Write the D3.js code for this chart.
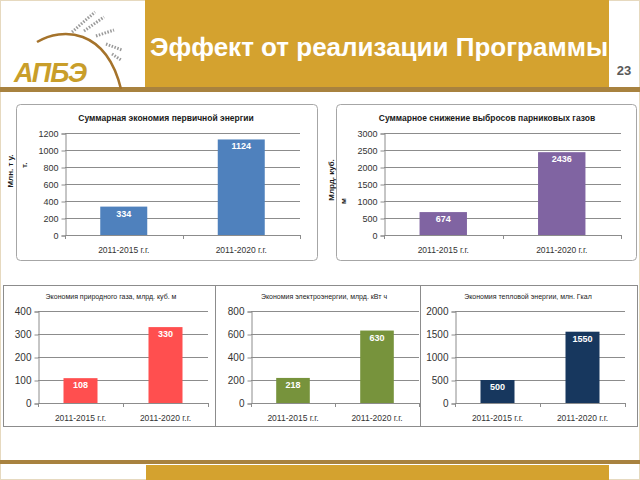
<!DOCTYPE html>
<html>
<head>
<meta charset="utf-8">
<script src="https://cdn.jsdelivr.net/npm/d3@7"></script>
<style>
	body { margin: 0; background: #FFFFFF; }
	svg { display: block; font-family: "Liberation Sans", Arial, sans-serif; }
</style>
</head>
<body>
<div id="vis_container"></div>
<script>
var categories = ["2011-2015 г.г.", "2011-2020 г.г."];
var primaryEnergy = [334, 1124];
var emissions = [674, 2436];
var gas = [108, 330];
var electricity = [218, 630];
var heat = [500, 1550];

var ticksPrimary = [0, 200, 400, 600, 800, 1000, 1200];
var ticksEmissions = [0, 500, 1000, 1500, 2000, 2500, 3000];
var ticksGas = [0, 100, 200, 300, 400];
var ticksElectricity = [0, 200, 400, 600, 800];
var ticksHeat = [0, 500, 1000, 1500, 2000];

var chartTitles = [
	"Суммарная экономия первичной энергии",
	"Суммарное снижение выбросов парниковых газов",
	"Экономия природного газа, млрд. куб. м",
	"Экономия электроэнергии, млрд. кВт ч",
	"Экономия тепловой энергии, млн. Гкал"
];
var slideTitle = "Эффект от реализации Программы";
var slideNumber = "23";

var width = 640, height = 480;
var gold = "#D4A22F", brown = "#A8823F";

var svg = d3.select("#vis_container").append("svg")
	.attr("width", width)
	.attr("height", height);

svg.append("rect")
	.attr("x", 0.5).attr("y", 0.5)
	.attr("width", width - 1).attr("height", height - 1)
	.attr("fill", "#FFFFFF")
	.attr("stroke", "#E6D9BF");

// header
svg.append("rect").attr("x", 145).attr("y", 0).attr("width", 464).attr("height", 87).attr("fill", gold);
svg.append("rect").attr("x", 0).attr("y", 87).attr("width", width).attr("height", 5).attr("fill", brown);
svg.append("text")
	.attr("x", 150).attr("y", 56)
	.attr("fill", "#FFFFFF")
	.attr("font-size", 26).attr("font-weight", "bold")
	.text(slideTitle);
svg.append("text")
	.attr("x", 624).attr("y", 75)
	.attr("text-anchor", "middle")
	.attr("fill", "#595959")
	.attr("font-size", 13).attr("font-weight", "bold")
	.text(slideNumber);

// logo
var logo = svg.append("g");
logo.append("path")
	.attr("d", "M37,42 C62,27 106,28 121,89")
	.attr("fill", "none").attr("stroke", "#A5732B").attr("stroke-width", 2.5);
[["M72,32 L95,12", 1], ["M84,31 L104,17", 1], ["M96,36 L114,30", 1], ["M106,44 L122,50", 1], ["M112,54 L121,60", 1]].forEach(function(s) {
	logo.append("path")
		.attr("d", s[0])
		.attr("fill", "none").attr("stroke", "#9A9A9A")
		.attr("stroke-width", 3).attr("stroke-dasharray", "1.5,1.5");
});
logo.append("text")
	.attr("x", 14).attr("y", 82)
	.attr("fill", "#C99E2A")
	.attr("font-size", 27).attr("font-weight", "bold").attr("font-style", "italic")
	.attr("letter-spacing", -1)
	.text("АПБЭ");

// footer
svg.append("rect").attr("x", 0).attr("y", 460).attr("width", width).attr("height", 4).attr("fill", brown);
svg.append("rect").attr("x", 146).attr("y", 465).attr("width", 463).attr("height", 15).attr("fill", gold);

function drawChart(c) {
	var g = svg.append("g");

	g.append("rect")
		.attr("x", c.box[0] + 0.5).attr("y", c.box[1] + 0.5)
		.attr("width", c.box[2]).attr("height", c.box[3])
		.attr("rx", c.rx).attr("ry", c.rx)
		.attr("fill", "#FFFFFF")
		.attr("stroke", c.border).attr("stroke-width", 1);

	var x = d3.scaleBand()
		.domain(categories)
		.range([c.x0, c.x1])
		.paddingInner(0.6)
		.paddingOuter(0.3);

	var y = d3.scaleLinear()
		.domain([0, c.ticks[c.ticks.length - 1]])
		.range([c.y0, c.y1]);

	g.append("text")
		.attr("x", c.titlePos[0]).attr("y", c.titlePos[1])
		.attr("text-anchor", "middle")
		.attr("fill", "#1A1A1A")
		.attr("font-size", c.titleSize).attr("font-weight", c.titleWeight)
		.text(c.title);

	// gridlines
	g.append("g")
		.selectAll("line")
		.data(c.ticks.slice(1))
		.join("line")
		.attr("x1", c.x0).attr("x2", c.x1)
		.attr("y1", function(d) { return Math.round(y(d)) + 0.5; })
		.attr("y2", function(d) { return Math.round(y(d)) + 0.5; })
		.attr("stroke", "#8C8C8C");

	var yAxis = g.append("g")
		.attr("transform", "translate(" + (c.x0 + 0.5) + ",0.5)")
		.call(d3.axisLeft(y).tickValues(c.ticks).tickFormat(d3.format("d")).tickSize(4).tickPadding(3));
	yAxis.select(".domain").attr("stroke", "#8C8C8C");
	yAxis.selectAll(".tick line").attr("stroke", "#8C8C8C");
	yAxis.selectAll(".tick text")
		.attr("fill", "#333333")
		.attr("font-size", c.tickSize)
		.attr("font-family", "Liberation Sans, Arial, sans-serif");

	// x axis
	g.append("line")
		.attr("x1", c.x0).attr("x2", c.x1)
		.attr("y1", Math.round(c.y0) + 0.5).attr("y2", Math.round(c.y0) + 0.5)
		.attr("stroke", "#8C8C8C");
	g.append("g")
		.selectAll("line")
		.data([c.x0, (c.x0 + c.x1) / 2, c.x1])
		.join("line")
		.attr("x1", function(d) { return Math.round(d) + 0.5; })
		.attr("x2", function(d) { return Math.round(d) + 0.5; })
		.attr("y1", c.y0).attr("y2", c.y0 + 4)
		.attr("stroke", "#8C8C8C");

	g.append("g")
		.selectAll("text")
		.data(categories)
		.join("text")
		.attr("x", function(d) { return x(d) + x.bandwidth() / 2; })
		.attr("y", c.y0 + 18)
		.attr("text-anchor", "middle")
		.attr("fill", "#333333")
		.attr("font-size", 8.5)
		.text(function(d) { return d; });

	g.append("g")
		.selectAll("rect")
		.data(c.values)
		.join("rect")
		.attr("x", function(d, i) { return x(categories[i]); })
		.attr("y", function(d) { return y(d); })
		.attr("width", x.bandwidth())
		.attr("height", function(d) { return y(0) - y(d); })
		.attr("fill", c.color);

	g.append("g")
		.selectAll("text")
		.data(c.values)
		.join("text")
		.attr("x", function(d, i) { return x(categories[i]) + x.bandwidth() / 2; })
		.attr("y", function(d) { return y(d) + 10; })
		.attr("text-anchor", "middle")
		.attr("fill", "#FFFFFF")
		.attr("font-size", 9).attr("font-weight", "bold")
		.text(function(d) { return d; });

	(c.yLabel || []).forEach(function(l) {
		g.append("text")
			.attr("transform", "translate(" + l.x + "," + l.y + ") rotate(-90)")
			.attr("text-anchor", l.anchor)
			.attr("fill", "#1A1A1A")
			.attr("font-size", 8).attr("font-weight", "bold")
			.text(l.text);
	});
}

drawChart({
	box: [16, 104, 301, 156], rx: 4, border: "#A6A6A6",
	x0: 65, x1: 300, y0: 235, y1: 133,
	values: primaryEnergy, ticks: ticksPrimary, color: "#4F81BD",
	title: chartTitles[0], titlePos: [166, 121], titleSize: 8.5, titleWeight: "bold", tickSize: 9,
	yLabel: [{text: "Млн. т у.", x: 13, y: 171, anchor: "middle"}, {text: "т.", x: 27, y: 168, anchor: "start"}]
});
drawChart({
	box: [336, 104, 300, 156], rx: 4, border: "#A6A6A6",
	x0: 384, x1: 621, y0: 235, y1: 133,
	values: emissions, ticks: ticksEmissions, color: "#8064A2",
	title: chartTitles[1], titlePos: [487, 121], titleSize: 8.5, titleWeight: "bold", tickSize: 9,
	yLabel: [{text: "Млрд. куб.", x: 334, y: 180, anchor: "middle"}, {text: "м", x: 346, y: 204, anchor: "start"}]
});
drawChart({
	box: [3, 285, 212, 141], rx: 0, border: "#8C8C8C",
	x0: 38, x1: 208, y0: 403, y1: 311,
	values: gas, ticks: ticksGas, color: "#FF4F4F",
	title: chartTitles[2], titlePos: [111, 299], titleSize: 7, titleWeight: "normal", tickSize: 10
});
drawChart({
	box: [215, 285, 205, 141], rx: 0, border: "#8C8C8C",
	x0: 251, x1: 419, y0: 403, y1: 311,
	values: electricity, ticks: ticksElectricity, color: "#77933C",
	title: chartTitles[3], titlePos: [324, 299], titleSize: 7, titleWeight: "normal", tickSize: 10
});
drawChart({
	box: [420, 285, 217, 141], rx: 0, border: "#8C8C8C",
	x0: 455, x1: 625, y0: 403, y1: 311,
	values: heat, ticks: ticksHeat, color: "#17375E",
	title: chartTitles[4], titlePos: [528, 299], titleSize: 7, titleWeight: "normal", tickSize: 10
});
</script>
</body>
</html>
